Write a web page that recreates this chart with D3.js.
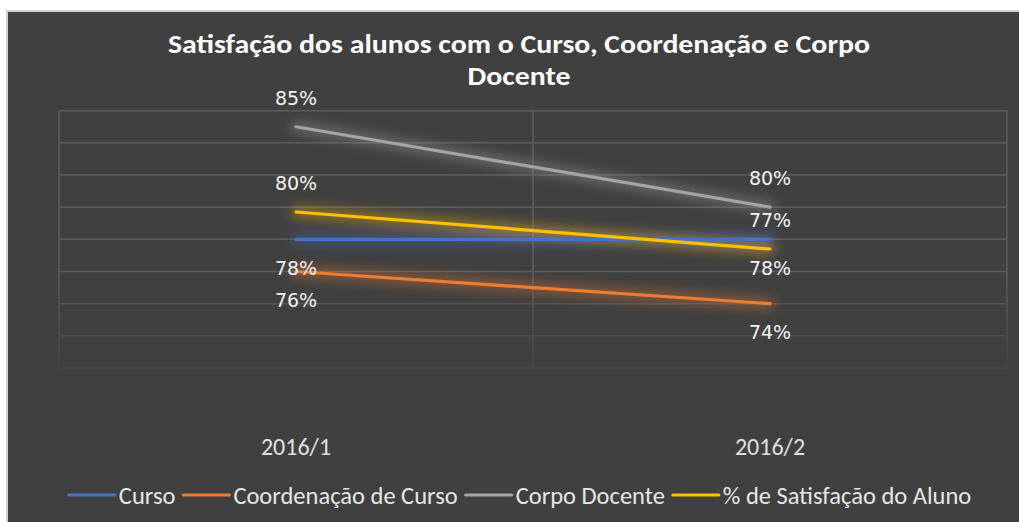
<!DOCTYPE html>
<html>
<head>
<meta charset="utf-8">
<script src="https://cdn.jsdelivr.net/npm/d3@7"></script>
<style>
  body { margin: 0; background: #fff; }
  svg { display: block; }
</style>
</head>
<body>
<svg id="chart" width="1019" height="522"></svg>
<script>
// data
const categories = ["2016/1", "2016/2"];
const seriesNames = ["Curso", "Coordenação de Curso", "Corpo Docente", "% de Satisfação do Aluno"];
const curso = [78, 78];
const coordenacao = [76, 74];
const corpoDocente = [85, 80];
const satisfacao = [79.7, 77.4];
const yTicks = [70, 72, 74, 76, 78, 80, 82, 84, 86];
const titleLines = ["Satisfação dos alunos com o Curso, Coordenação e Corpo", "Docente"];

const colors = ["#4472C4", "#ED7D31", "#A5A5A5", "#FFC000"];
// data labels sit above (-1) or below (+1) the point
const labelSide = [1, 1, -1, -1];

const series = [curso, coordenacao, corpoDocente, satisfacao].map((vals, i) => ({
  name: seriesNames[i], values: vals, color: colors[i], side: labelSide[i]
}));

const width = 1019, height = 522;
const margin = {left: 59, right: 12, top: 110.7, bottom: 154};
const calibri = "Carlito, 'Liberation Sans Narrow', 'Liberation Sans', sans-serif";

const svg = d3.select("#chart");

// chart background
svg.append("rect").attr("x", 6).attr("y", 10).attr("width", width - 6).attr("height", height - 10)
  .attr("fill", "#d0d0d0");
svg.append("rect").attr("x", 8).attr("y", 12).attr("width", width - 8).attr("height", height - 12)
  .attr("fill", "#404040");

const x = d3.scaleBand().domain(categories).range([margin.left, width - margin.right]);
const y = d3.scaleLinear().domain([70, 86]).range([height - margin.bottom, margin.top]);

const defs = svg.append("defs");
const fade = defs.append("linearGradient")
  .attr("id", "gridFade").attr("gradientUnits", "userSpaceOnUse")
  .attr("x1", 0).attr("x2", 0).attr("y1", 270).attr("y2", 372);
fade.append("stop").attr("offset", "0%").attr("stop-color", "#5c5c5c");
fade.append("stop").attr("offset", "100%").attr("stop-color", "#444444");

const glow = defs.append("filter").attr("id", "glow")
  .attr("x", "-20%").attr("y", "-200%").attr("width", "140%").attr("height", "500%");
glow.append("feGaussianBlur").attr("stdDeviation", 6);

// gridlines
const grid = svg.append("g").attr("stroke", "url(#gridFade)").attr("stroke-width", 1.5);
grid.selectAll("line.h").data(yTicks).enter().append("line")
  .attr("class", "h")
  .attr("x1", margin.left).attr("x2", width - margin.right)
  .attr("y1", d => y(d)).attr("y2", d => y(d));
const bounds = categories.map(c => x(c)).concat([x(categories[categories.length - 1]) + x.bandwidth()]);
grid.selectAll("line.v").data(bounds).enter().append("line")
  .attr("class", "v")
  .attr("x1", d => d).attr("x2", d => d)
  .attr("y1", y(86)).attr("y2", y(70));

// category axis labels
const xAxis = svg.append("g")
  .attr("transform", `translate(0, ${height - margin.bottom})`)
  .call(d3.axisBottom(x).tickSize(0).tickPadding(70));
xAxis.select(".domain").remove();
xAxis.selectAll("text")
  .attr("fill", "#e0e0e0")
  .style("font-family", calibri)
  .style("font-size", "24px");

const line = d3.line()
  .x((d, i) => x(categories[i]) + x.bandwidth() / 2)
  .y(d => y(d));

// glow under lines
svg.append("g").attr("filter", "url(#glow)")
  .selectAll("path").data(series).enter().append("path")
  .attr("d", d => line(d.values))
  .attr("fill", "none")
  .attr("stroke", d => d.color)
  .attr("stroke-opacity", 0.45)
  .attr("stroke-width", 10)
  .attr("stroke-linecap", "round");

svg.append("g")
  .selectAll("path").data(series).enter().append("path")
  .attr("d", d => line(d.values))
  .attr("fill", "none")
  .attr("stroke", d => d.color)
  .attr("stroke-width", 3.2)
  .attr("stroke-linecap", "round");

// data labels
const labels = svg.append("g")
  .style("font-family", "'DejaVu Sans', sans-serif")
  .style("font-size", "19px")
  .attr("fill", "#f2f2f2")
  .attr("text-anchor", "middle");
series.forEach(s => {
  labels.selectAll(null).data(s.values).enter().append("text")
    .attr("x", (d, i) => x(categories[i]) + x.bandwidth() / 2)
    .attr("y", d => y(d) + s.side * 28.5)
    .attr("dy", "0.35em")
    .text(d => Math.round(d) + "%");
});

// title (stretched sideways like the original)
const title = svg.append("text")
  .attr("text-anchor", "middle")
  .attr("fill", "#ffffff")
  .style("font-family", calibri)
  .style("font-weight", "bold")
  .style("font-size", "27px");
const spans = title.selectAll("tspan").data(titleLines).enter().append("tspan")
  .attr("x", 519).attr("y", (d, i) => 53 + i * 32).text(d => d);
const stretch = 702 / spans.nodes()[0].getComputedTextLength();
spans.each(function() {
  d3.select(this).attr("textLength", this.getComputedTextLength() * stretch)
    .attr("lengthAdjust", "spacingAndGlyphs");
});

// legend
const legend = svg.append("g").attr("transform", "translate(0, 495)");
let lx = 0;
const items = legend.selectAll("g").data(series).enter().append("g");
items.each(function(d) {
  const g = d3.select(this);
  g.append("line").attr("x1", 0).attr("x2", 46).attr("y1", 0).attr("y2", 0)
    .attr("stroke", d.color).attr("stroke-width", 3.2).attr("stroke-linecap", "round");
  const t = g.append("text").attr("x", 50).attr("dy", "0.35em")
    .attr("fill", "#e6e6e6")
    .style("font-family", calibri)
    .style("font-size", "24.5px")
    .text(d.name);
  g.attr("transform", `translate(${lx}, 0)`);
  lx += 50 + t.node().getComputedTextLength() + 8;
});
const legendW = lx - 8;
legend.attr("transform", `translate(${520 - legendW / 2}, 495)`);
</script>
</body>
</html>
